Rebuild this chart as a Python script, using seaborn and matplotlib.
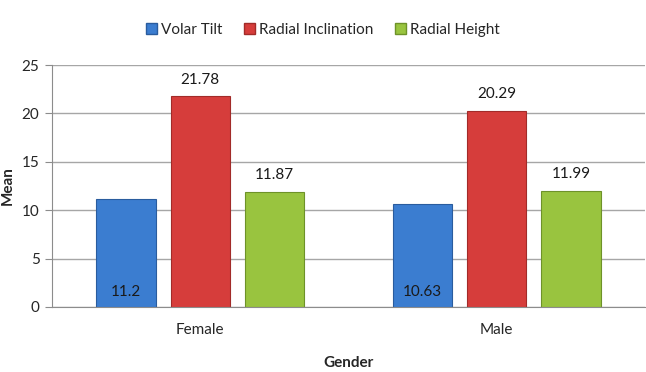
import matplotlib
matplotlib.use("Agg")
import matplotlib.pyplot as plt
import seaborn as sns
import pandas as pd
from matplotlib.patches import Patch

genders = ["Female", "Male"]
series = ["Volar Tilt", "Radial Inclination", "Radial Height"]
volar_tilt = [11.2, 10.63]
radial_inclination = [21.78, 20.29]
radial_height = [11.87, 11.99]
value_labels = {"Volar Tilt": ["11.2", "10.63"],
                "Radial Inclination": ["21.78", "20.29"],
                "Radial Height": ["11.87", "11.99"]}

colors = ["#3B7DD0", "#D63D3B", "#99C43F"]
edges = ["#2A5C9E", "#A22B29", "#6E9229"]

df = pd.DataFrame({
    "Gender": genders * 3,
    "Measure": [s for s in series for _ in genders],
    "Mean": volar_tilt + radial_inclination + radial_height,
})

sns.set_style("white")
plt.rcParams["font.family"] = ["Lato", "DejaVu Sans"]

fig = plt.figure(figsize=(6.46, 3.72), dpi=100)
ax = fig.add_axes([0.0805, 0.175, 0.918, 0.65])

sns.barplot(data=df, x="Gender", y="Mean", hue="Measure", hue_order=series,
            palette=colors, saturation=1, width=0.75, gap=0.2, ax=ax, legend=False)

for i, cont in enumerate(ax.containers):
    for bar in cont:
        bar.set_edgecolor(edges[i])
        bar.set_linewidth(0.8)
    s = series[i]
    if s == "Volar Tilt":
        for bar, lab in zip(cont, value_labels[s]):
            ax.text(bar.get_x() + bar.get_width() / 2, 0.8, lab,
                    ha="center", va="bottom", fontsize=11, color="#1a1a1a")
    else:
        for bar, lab in zip(cont, value_labels[s]):
            ax.text(bar.get_x() + bar.get_width() / 2, bar.get_height() + 1.0, lab,
                    ha="center", va="bottom", fontsize=11, color="#1a1a1a")

ax.set_ylim(0, 25)
ax.set_yticks([0, 5, 10, 15, 20, 25])
ax.set_xlim(-0.5, 1.5)
ax.yaxis.grid(True, color="#a6a6a6", linewidth=1.0)
ax.set_axisbelow(True)
for sp in ["top", "right"]:
    ax.spines[sp].set_visible(False)
ax.spines["left"].set_color("#8c8c8c")
ax.spines["bottom"].set_color("#8c8c8c")
ax.tick_params(axis="y", left=True, length=5, color="#8c8c8c", labelsize=11, pad=4)
ax.tick_params(axis="x", bottom=False, labelsize=11, pad=8)
ax.set_ylabel("Mean", fontsize=11, fontweight="bold", labelpad=5)
ax.set_xlabel("Gender", fontsize=11, fontweight="bold", labelpad=14)

handles = [Patch(facecolor=c, edgecolor=e, label=s) for c, e, s in zip(colors, edges, series)]
fig.legend(handles=handles, loc="center", bbox_to_anchor=(0.5, 0.92), ncol=3,
           frameon=False, fontsize=11, handlelength=0.7, handleheight=0.7,
           handletextpad=0.3, columnspacing=1.4)

fig.savefig("out.png", dpi=100)
